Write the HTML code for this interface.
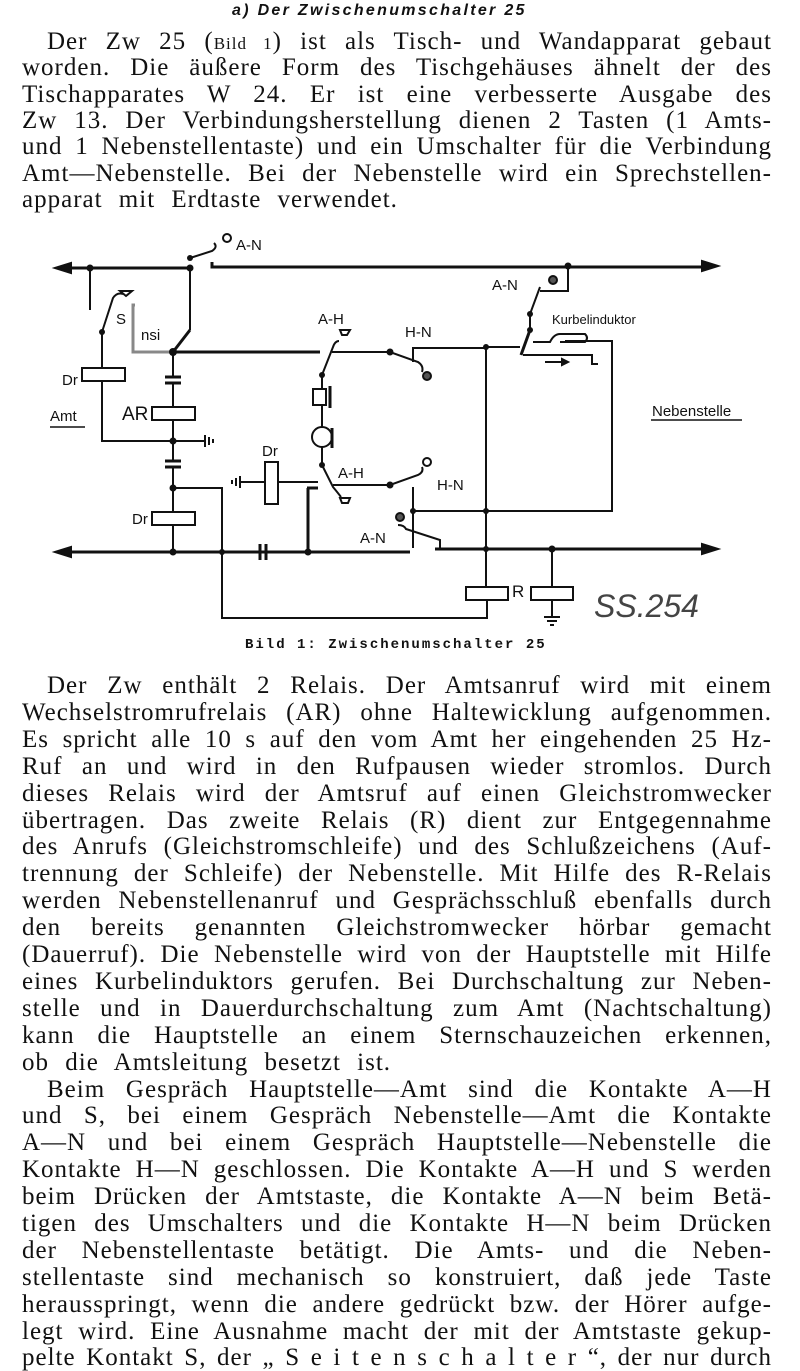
<!DOCTYPE html>
<html><head><meta charset="utf-8"><style>
body{margin:0;width:800px;height:1371px;background:#fff;position:relative;overflow:hidden;font-family:"Liberation Serif",serif;color:#111}
.l{position:absolute;left:22px;width:750px;font-size:25px;line-height:26px;letter-spacing:1px;white-space:nowrap;text-align:justify;text-align-last:justify}
.i{left:47px;width:725px}
.n{text-align-last:left;word-spacing:9px}
.h{position:absolute;top:2px;left:232px;font:italic bold 16px "Liberation Sans",sans-serif;letter-spacing:2.3px}
.cap{position:absolute;top:637px;left:245px;font:bold 14px "Liberation Mono",monospace;letter-spacing:2px}
svg text{font-family:"Liberation Sans",sans-serif}
</style></head><body>
<div class="h">a) Der Zwischenumschalter 25</div>
<div class="l i" style="top:29px">Der Zw 25 (<span style="font-size:17px">Bild 1</span>) ist als Tisch- und Wandapparat gebaut</div>
<div class="l" style="top:55px">worden. Die äußere Form des Tischgehäuses ähnelt der des</div>
<div class="l" style="top:82px">Tischapparates W 24. Er ist eine verbesserte Ausgabe des</div>
<div class="l" style="top:108px">Zw 13. Der Verbindungsherstellung dienen 2 Tasten (1 Amts-</div>
<div class="l" style="top:134px">und 1 Nebenstellentaste) und ein Umschalter für die Verbindung</div>
<div class="l" style="top:161px">Amt—Nebenstelle. Bei der Nebenstelle wird ein Sprechstellen-</div>
<div class="l n" style="top:187px">apparat mit Erdtaste verwendet.</div>

<svg style="position:absolute;left:0;top:0" width="800" height="640">
<g stroke="#111" stroke-width="2" fill="none">
<path d="M62 268H190" stroke-width="3"/><path d="M212 262V267H705" stroke-width="3"/>
<path d="M55 268l16-5v10z" fill="#111"/><path d="M718 266l-16-5v10z" fill="#111"/>
<path d="M62 552H410" stroke-width="3"/><path d="M435 549H705" stroke-width="3"/>
<path d="M55 552l16-5v10z" fill="#111"/><path d="M718 549l-16-5v10z" fill="#111"/>
<path d="M190 258L212 251q6-4 2-8"/><circle cx="227" cy="238" r="4"/>
<path d="M190 268V330"/><path d="M190 330L173 352" stroke-width="3"/>
<path d="M90 268V310"/><path d="M102 332L113 298q4-6 10-4"/><path d="M120 291h12l-6 5z"/>
<path d="M102 332V368M102 381V441H173"/>
<rect x="82" y="368" width="43" height="13"/>
<path d="M135 305H133V352H173" stroke="#888" stroke-width="3"/>
<path d="M173 352V377M173 383V407M173 420V461M173 467V512M173 525V552"/>
<path d="M165 377h16M165 383h16M165 461h16M165 467h16" stroke-width="3"/>
<rect x="152" y="407" width="43" height="13"/><rect x="152" y="512" width="43" height="13"/>
<path d="M173 441H205M205 435v12M209 437v8M213 439v4"/>
<path d="M173 488H222V618H487V600"/>
<path d="M260 544v16M266 544v16" stroke-width="3"/>
<path d="M173 352H320" stroke-width="3"/><path d="M332 352H390L418 362q6 4 4 10"/><circle cx="427" cy="376" r="4" fill="#555"/>
<path d="M322 375L333 347q2-6 6-6"/><path d="M340 330h10l-3 5h-5z"/>
<path d="M413 362V348H486M486 347H520"/>
<path d="M322 375V389M322 405V427M322 447V465"/>
<rect x="313" y="389" width="13" height="16"/><path d="M330 386v22M332 428v20" stroke-width="3"/>
<circle cx="322" cy="437" r="10"/>
<path d="M322 465L333 487q5 6 8 10"/><path d="M340 498h10l-2 5h-6z"/>
<path d="M333 485H390L418 475q6-3 4-8"/><circle cx="427" cy="462" r="4"/>
<path d="M240 482H265M278 482H318"/><rect x="265" y="462" width="13" height="42"/>
<path d="M240 476v12M236 478v8M232 480v4"/>
<path d="M307 488H318M308 488V552" stroke-width="3"/>
<circle cx="400" cy="517" r="4" fill="#555"/><path d="M398 525q6 0 8 4L440 540V550"/>
<path d="M413 487V548M413 511H612V341H565"/>
<path d="M486 347V587"/><rect x="466" y="587" width="42" height="13"/>
<path d="M552 549V587"/><rect x="531" y="587" width="42" height="13"/>
<path d="M552 600V617M544 617h16M547 621h10M550 625h4"/>
<path d="M568 266V291H540"/><circle cx="553" cy="280" r="4" fill="#555"/>
<path d="M540 287L530 314V330"/><path d="M530 330L521 355" stroke-width="3"/>
<path d="M533 342H550q4-8 10-8h25q4 4 0 8H560M585 341h27"/>
<path d="M523 355H592V364h6"/><path d="M545 362h20" stroke-width="2"/><path d="M568 362l-6-3v6z" fill="#111"/>
<path d="M651 420H742M50 427H85" stroke-width="1.5"/>
</g>
<g fill="#111">
<circle cx="90" cy="268" r="3.5"/><circle cx="190" cy="268" r="3.5"/><circle cx="190" cy="258" r="3"/><circle cx="568" cy="266" r="3.5"/>
<circle cx="102" cy="332" r="3"/><circle cx="173" cy="352" r="4"/><circle cx="173" cy="441" r="3.5"/><circle cx="173" cy="488" r="3.5"/>
<circle cx="173" cy="552" r="3.5"/><circle cx="222" cy="552" r="3"/><circle cx="308" cy="552" r="3.5"/><circle cx="390" cy="352" r="3.5"/>
<circle cx="322" cy="375" r="3"/><circle cx="322" cy="465" r="3"/><circle cx="390" cy="485" r="3.5"/><circle cx="413" cy="511" r="3"/>
<circle cx="486" cy="347" r="3"/><circle cx="486" cy="511" r="3"/><circle cx="486" cy="549" r="3"/><circle cx="552" cy="549" r="3.5"/>
<circle cx="530" cy="314" r="3"/><circle cx="530" cy="330" r="3"/>
</g>
<g font-size="15" fill="#111">
<text x="236" y="250">A-N</text><text x="492" y="290">A-N</text><text x="318" y="324">A-H</text>
<text x="405" y="337">H-N</text><text x="552" y="324" font-size="13">Kurbelinduktor</text>
<text x="62" y="385">Dr</text><text x="122" y="420" font-size="19">AR</text><text x="50" y="421">Amt</text>
<text x="262" y="456">Dr</text><text x="338" y="478">A-H</text><text x="437" y="490">H-N</text>
<text x="132" y="524">Dr</text><text x="360" y="543">A-N</text><text x="512" y="597" font-size="17">R</text>
<text x="652" y="416">Nebenstelle</text><text x="141" y="340">nsi</text><text x="116" y="324">S</text>
<text x="594" y="617" font-size="32" font-family="Liberation Serif" font-style="italic" fill="#444">SS.254</text>
</g>
</svg>
<div class="cap">Bild 1: Zwischenumschalter 25</div>

<div class="l i" style="top:673px">Der Zw enthält 2 Relais. Der Amtsanruf wird mit einem</div>
<div class="l" style="top:700px">Wechselstromrufrelais (AR) ohne Haltewicklung aufgenommen.</div>
<div class="l" style="top:727px">Es spricht alle 10 s auf den vom Amt her eingehenden 25 Hz-</div>
<div class="l" style="top:754px">Ruf an und wird in den Rufpausen wieder stromlos. Durch</div>
<div class="l" style="top:781px">dieses Relais wird der Amtsruf auf einen Gleichstromwecker</div>
<div class="l" style="top:808px">übertragen. Das zweite Relais (R) dient zur Entgegennahme</div>
<div class="l" style="top:834px">des Anrufs (Gleichstromschleife) und des Schlußzeichens (Auf-</div>
<div class="l" style="top:861px">trennung der Schleife) der Nebenstelle. Mit Hilfe des R-Relais</div>
<div class="l" style="top:888px">werden Nebenstellenanruf und Gesprächsschluß ebenfalls durch</div>
<div class="l" style="top:915px">den bereits genannten Gleichstromwecker hörbar gemacht</div>
<div class="l" style="top:942px">(Dauerruf). Die Nebenstelle wird von der Hauptstelle mit Hilfe</div>
<div class="l" style="top:969px">eines Kurbelinduktors gerufen. Bei Durchschaltung zur Neben-</div>
<div class="l" style="top:996px">stelle und in Dauerdurchschaltung zum Amt (Nachtschaltung)</div>
<div class="l" style="top:1023px">kann die Hauptstelle an einem Sternschauzeichen erkennen,</div>
<div class="l n" style="top:1050px">ob die Amtsleitung besetzt ist.</div>
<div class="l i" style="top:1077px">Beim Gespräch Hauptstelle—Amt sind die Kontakte A—H</div>
<div class="l" style="top:1103px">und S, bei einem Gespräch Nebenstelle—Amt die Kontakte</div>
<div class="l" style="top:1130px">A—N und bei einem Gespräch Hauptstelle—Nebenstelle die</div>
<div class="l" style="top:1157px">Kontakte H—N geschlossen. Die Kontakte A—H und S werden</div>
<div class="l" style="top:1184px">beim Drücken der Amtstaste, die Kontakte A—N beim Betä-</div>
<div class="l" style="top:1211px">tigen des Umschalters und die Kontakte H—N beim Drücken</div>
<div class="l" style="top:1238px">der Nebenstellentaste betätigt. Die Amts- und die Neben-</div>
<div class="l" style="top:1265px">stellentaste sind mechanisch so konstruiert, daß jede Taste</div>
<div class="l" style="top:1292px">herausspringt, wenn die andere gedrückt bzw. der Hörer aufge-</div>
<div class="l" style="top:1319px">legt wird. Eine Ausnahme macht der mit der Amtstaste gekup-</div>
<div class="l" style="top:1345px">pelte Kontakt S, der „ S e i t e n s c h a l t e r “, der nur durch</div>
</body></html>
